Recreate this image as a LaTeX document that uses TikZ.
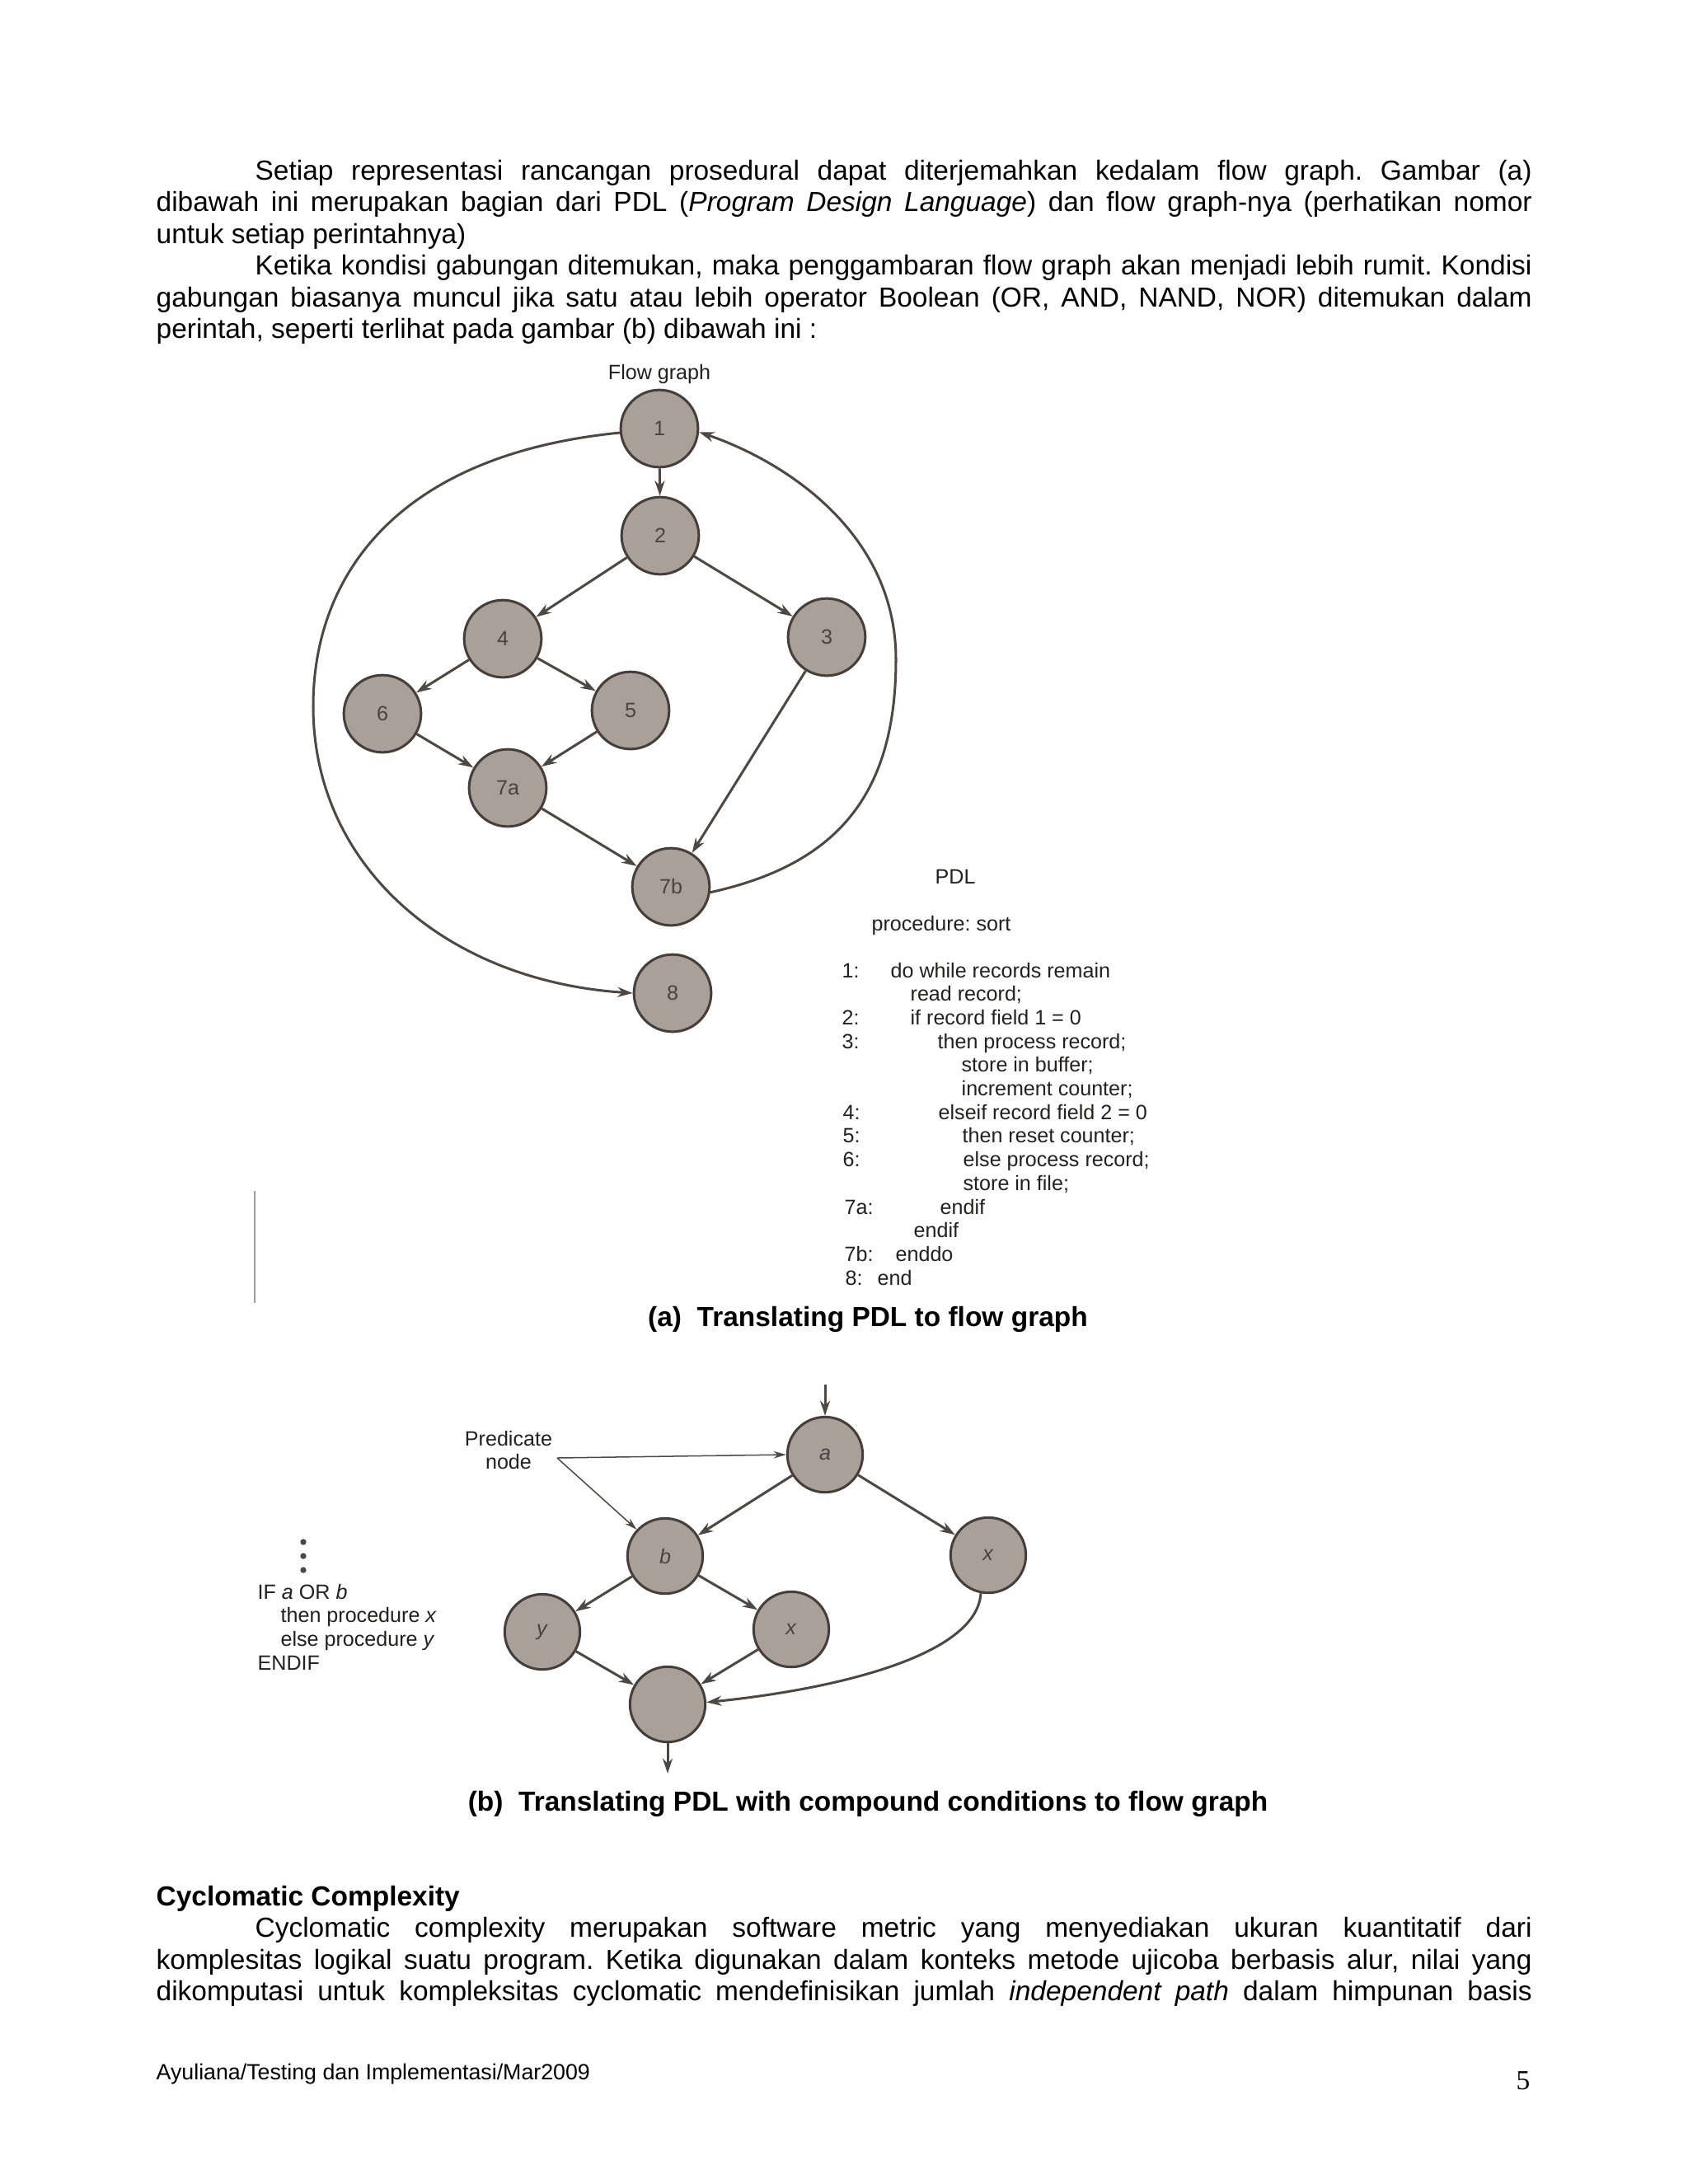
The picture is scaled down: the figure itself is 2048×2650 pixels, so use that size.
\documentclass[tikz,border=0pt]{standalone}
\usepackage{fontspec}
\setmainfont{Liberation Sans}
\newfontfamily\serifpg{Liberation Serif}
\usetikzlibrary{arrows.meta}
\frenchspacing
\definecolor{nodefill}{RGB}{170,160,154}
\definecolor{nodeline}{RGB}{70,62,58}
\definecolor{edgecol}{RGB}{78,72,68}
\definecolor{labelcol}{RGB}{75,66,62}
\definecolor{figtext}{RGB}{35,33,32}
\tikzset{
  gnode/.style={circle, minimum size=28pt, inner sep=0pt, fill=nodefill, draw=nodeline, line width=0.9pt, text=labelcol, font=\fontsize{7.5}{9}\selectfont},
  bnode/.style={gnode, minimum size=27.3pt},
  conn/.style={draw=edgecol, line width=0.9pt, -{Stealth[length=5.5pt,width=3.6pt]}},
  thinconn/.style={draw=edgecol, line width=0.45pt, -{Stealth[length=4.5pt,width=2.6pt]}},
  body/.style={anchor=base west, inner sep=0pt, font=\fontsize{10}{12}\selectfont},
  figtxt/.style={anchor=base west, inner sep=0pt, font=\fontsize{7.5}{9}\selectfont, text=figtext},
  captxt/.style={anchor=base, inner sep=0pt, font=\fontsize{10}{12}\selectfont\bfseries},
  dotmark/.style={circle, fill=edgecol, inner sep=0pt, minimum size=2.2pt},
}
\begin{document}
\begin{tikzpicture}[x=0.29883pt, y=-0.29883pt]
\useasboundingbox (0,0) rectangle (2048,2650);
\fill[white] (0,0) rectangle (2048,2650);

% ---- body text, top
\node[body] (t1) at (309,218) {\makebox[462.9pt][s]{Setiap representasi rancangan prosedural dapat diterjemahkan kedalam flow graph. Gambar (a)}};
\node[body] (t2) at (189,256.5) {\makebox[498.75pt][s]{dibawah ini merupakan bagian dari PDL (\textit{Program Design Language}) dan flow graph-nya (perhatikan nomor}};
\node[body] (t3) at (189,295) {untuk setiap perintahnya)};
\node[body] (t4) at (309,333.5) {\makebox[462.9pt][s]{Ketika kondisi gabungan ditemukan, maka penggambaran flow graph akan menjadi lebih rumit. Kondisi}};
\node[body] (t5) at (189,372) {\makebox[498.75pt][s]{gabungan biasanya muncul jika satu atau lebih operator Boolean (OR, AND, NAND, NOR) ditemukan dalam}};
\node[body] (t6) at (189,410.5) {perintah, seperti terlihat pada gambar (b) dibawah ini :};

% ---- figure (a)
\node[figtxt, anchor=base] (fgt) at (800,460) {Flow graph};
\node[gnode] (n1) at (800,520) {1};
\node[gnode] (n2) at (801,650) {2};
\node[gnode] (n4) at (610,775) {4};
\node[gnode] (n3) at (1003,773) {3};
\node[gnode] (n6) at (464,866) {6};
\node[gnode] (n5) at (765,862) {5};
\node[gnode] (n7a) at (616,956) {7a};
\node[gnode] (n7b) at (814,1076) {7b};
\node[gnode] (n8) at (816,1205) {8};

\draw[conn] (n1) -- (n2);
\draw[conn] (n2) -- (n4);
\draw[conn] (n2) -- (n3);
\draw[conn] (n4) -- (n6);
\draw[conn] (n4) -- (n5);
\draw[conn] (n6) -- (n7a);
\draw[conn] (n5) -- (n7a);
\draw[conn] (n7a) -- (n7b);
\draw[conn] (n3) -- (n7b);
\coordinate (rmid) at (1087,800);
\coordinate (lmid) at (380,857);
\draw[conn] (n7b.352) .. controls (1010,1050) and (1087,970) .. (rmid)
  .. controls (1087,650) and (958,562) .. (n1.355);
\draw[draw=edgecol, line width=0.9pt] (n1.186) .. controls (480,552) and (380,700) .. (lmid);
\draw[conn] (lmid) .. controls (380,1050) and (540,1190) .. (n8.west);

\draw[gray!75, line width=0.45pt] (309,1445) -- (309,1581);

% PDL listing
\node[figtxt] (pdl) at (1134,1072) {PDL};
\node[figtxt] (proc) at (1057,1129) {procedure: sort};
\node[figtxt] (l0) at (1021,1186) {1:};
\node[figtxt] (p0) at (1080,1186) {do while records remain};
\node[figtxt] (p1) at (1104,1214.7) {read record;};
\node[figtxt] (l2) at (1021,1243.4) {2:};
\node[figtxt] (p2) at (1104,1243.4) {if record field 1 = 0};
\node[figtxt] (l3) at (1021,1272.1) {3:};
\node[figtxt] (p3) at (1137,1272.1) {then process record;};
\node[figtxt] (p4) at (1166,1300.8) {store in buffer;};
\node[figtxt] (p5) at (1166,1329.5) {increment counter;};
\node[figtxt] (l6) at (1022,1358.2) {4:};
\node[figtxt] (p6) at (1138,1358.2) {elseif record field 2 = 0};
\node[figtxt] (l7) at (1022,1386.9) {5:};
\node[figtxt] (p7) at (1167,1386.9) {then reset counter;};
\node[figtxt] (l8) at (1022,1415.6) {6:};
\node[figtxt] (p8) at (1168,1415.6) {else process record;};
\node[figtxt] (p9) at (1168,1444.3) {store in file;};
\node[figtxt] (l10) at (1024,1473) {7a:};
\node[figtxt] (p10) at (1140,1473) {endif};
\node[figtxt] (p11) at (1108,1501.7) {endif};
\node[figtxt] (l12) at (1024,1530.4) {7b:};
\node[figtxt] (p12) at (1086,1530.4) {enddo};
\node[figtxt] (l13) at (1025,1559.1) {8:};
\node[figtxt] (p13) at (1064,1559.1) {end};

\node[captxt] (capa) at (1053,1609) {(a)\ \ Translating PDL to flow graph};

% ---- figure (b)
\node[bnode] (na) at (1001,1765) {\textit{a}};
\node[bnode] (nb) at (807,1888) {\textit{b}};
\node[bnode] (nxr) at (1199,1887) {\textit{x}};
\node[bnode] (ny) at (658,1980) {\textit{y}};
\node[bnode] (nxm) at (960,1977) {\textit{x}};
\node[bnode] (nbot) at (810,2068) {};
\coordinate (ain) at (1001,1680);
\coordinate (bout) at (810,2152);
\draw[conn] (ain) -- (na);
\draw[conn] (na) -- (nb);
\draw[conn] (na) -- (nxr);
\draw[conn] (nb) -- (ny);
\draw[conn] (nb) -- (nxm);
\draw[conn] (ny) -- (nbot);
\draw[conn] (nxm) -- (nbot);
\draw[conn] (nxr.259) .. controls (1185,2010) and (1010,2050) .. (nbot.3);
\draw[conn] (nbot) -- (bout);

\node[figtxt, anchor=base] (pred1) at (617,1754.5) {Predicate};
\node[figtxt, anchor=base] (pred2) at (617,1782.7) {node};
\coordinate (pv) at (676,1769);
\draw[thinconn] (pv) -- (na.west);
\draw[thinconn] (pv) -- (nb.137);

\node[dotmark] (d1) at (368,1871) {};
\node[dotmark] (d2) at (368,1888) {};
\node[dotmark] (d3) at (368,1905) {};
\node[figtxt] (if1) at (312,1940) {IF \textit{a} OR \textit{b}};
\node[figtxt] (if2) at (340,1968.7) {then procedure \textit{x}};
\node[figtxt] (if3) at (340,1997.4) {else procedure \textit{y}};
\node[figtxt] (if4) at (312,2026) {ENDIF};

\node[captxt] (capb) at (1053,2197) {(b)\ \ Translating PDL with compound conditions to flow graph};

% ---- body text, bottom
\node[body, font=\fontsize{10}{12}\selectfont\bfseries] (h1) at (189,2312) {Cyclomatic Complexity};
\node[body] (t7) at (309,2350.5) {\makebox[462.9pt][s]{Cyclomatic complexity merupakan software metric yang menyediakan ukuran kuantitatif dari}};
\node[body] (t8) at (189,2389) {\makebox[498.75pt][s]{komplesitas logikal suatu program. Ketika digunakan dalam konteks metode ujicoba berbasis alur, nilai yang}};
\node[body] (t9) at (189,2427.5) {\makebox[498.75pt][s]{dikomputasi untuk kompleksitas cyclomatic mendefinisikan jumlah \textit{independent path} dalam himpunan basis}};

\node[anchor=base west, inner sep=0pt, font=\fontsize{8}{10}\selectfont] (foot) at (189,2523) {Ayuliana/Testing dan Implementasi/Mar2009};
\node[anchor=base east, inner sep=0pt, font=\serifpg\fontsize{10}{12}\selectfont] (pg) at (1857,2535) {5};
\end{tikzpicture}
\end{document}
